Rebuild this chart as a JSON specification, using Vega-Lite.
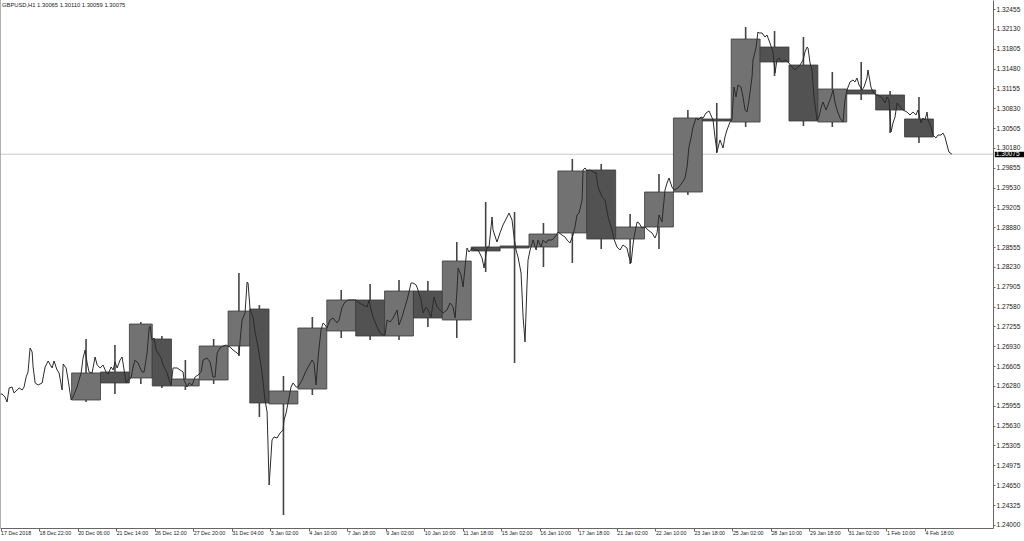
{
  "$schema": "https://vega.github.io/schema/vega-lite/v6.json",
  "width": 993,
  "height": 528,
  "autosize": {"type": "none"},
  "padding": {"left": 0, "top": 0, "right": 31, "bottom": 13},
  "background": "white",
  "config": {"view": {"stroke": null}, "font": "Liberation Sans", "axis": {"labelOverlap": false, "grid": false, "title": null}},
  "title": {"text": "GBPUSD,H1  1.30065 1.30110 1.30059 1.30075", "anchor": "start", "frame": "group", "orient": "top", "offset": -8, "dx": 2, "fontSize": 5.8, "fontWeight": "normal", "font": "Liberation Sans", "color": "#222222"},
  "datasets": {
    "days": [
      {"start": 59, "end": 83, "open": 1.26048, "close": 1.26491, "high": 1.27048, "low": 1.26015},
      {"start": 83, "end": 107, "open": 1.26507, "close": 1.26327, "high": 1.26949, "low": 1.26146},
      {"start": 107, "end": 126, "open": 1.26409, "close": 1.27293, "high": 1.27326, "low": 1.26310},
      {"start": 126, "end": 142, "open": 1.27048, "close": 1.26278, "high": 1.27097, "low": 1.26245},
      {"start": 142, "end": 165, "open": 1.26278, "close": 1.26392, "high": 1.26704, "low": 1.26212},
      {"start": 165, "end": 189, "open": 1.26376, "close": 1.26933, "high": 1.27048, "low": 1.26310},
      {"start": 189, "end": 207, "open": 1.26933, "close": 1.27506, "high": 1.28129, "low": 1.26769},
      {"start": 207, "end": 223, "open": 1.27539, "close": 1.25999, "high": 1.27605, "low": 1.25770},
      {"start": 223, "end": 247, "open": 1.25983, "close": 1.26196, "high": 1.26441, "low": 1.24164},
      {"start": 247, "end": 271, "open": 1.26228, "close": 1.27228, "high": 1.27408, "low": 1.26130},
      {"start": 271, "end": 295, "open": 1.27179, "close": 1.27687, "high": 1.27851, "low": 1.27064},
      {"start": 295, "end": 319, "open": 1.27687, "close": 1.27097, "high": 1.27949, "low": 1.27031},
      {"start": 319, "end": 343, "open": 1.27097, "close": 1.27834, "high": 1.28014, "low": 1.27031},
      {"start": 343, "end": 367, "open": 1.27834, "close": 1.27392, "high": 1.27998, "low": 1.27244},
      {"start": 367, "end": 391, "open": 1.27359, "close": 1.28326, "high": 1.28637, "low": 1.27064},
      {"start": 391, "end": 415, "open": 1.28555, "close": 1.28490, "high": 1.29293, "low": 1.28146},
      {"start": 415, "end": 439, "open": 1.28572, "close": 1.28539, "high": 1.29129, "low": 1.26654},
      {"start": 439, "end": 463, "open": 1.28555, "close": 1.28768, "high": 1.28948, "low": 1.28227},
      {"start": 463, "end": 487, "open": 1.28785, "close": 1.29801, "high": 1.29997, "low": 1.28293},
      {"start": 487, "end": 511, "open": 1.29817, "close": 1.28686, "high": 1.29915, "low": 1.28522},
      {"start": 511, "end": 535, "open": 1.28686, "close": 1.28883, "high": 1.29096, "low": 1.28277},
      {"start": 535, "end": 559, "open": 1.28883, "close": 1.29456, "high": 1.29751, "low": 1.28522},
      {"start": 559, "end": 583, "open": 1.29456, "close": 1.30669, "high": 1.30800, "low": 1.29407},
      {"start": 583, "end": 607, "open": 1.30653, "close": 1.30620, "high": 1.30915, "low": 1.30095},
      {"start": 607, "end": 631, "open": 1.30603, "close": 1.31963, "high": 1.32160, "low": 1.30522},
      {"start": 631, "end": 655, "open": 1.31832, "close": 1.31587, "high": 1.32095, "low": 1.31357},
      {"start": 655, "end": 679, "open": 1.31537, "close": 1.30620, "high": 1.31996, "low": 1.30538},
      {"start": 679, "end": 703, "open": 1.30603, "close": 1.31144, "high": 1.31423, "low": 1.30522},
      {"start": 703, "end": 727, "open": 1.31128, "close": 1.31062, "high": 1.31587, "low": 1.30964},
      {"start": 727, "end": 751, "open": 1.31046, "close": 1.30800, "high": 1.31111, "low": 1.30423},
      {"start": 751, "end": 775, "open": 1.30653, "close": 1.30358, "high": 1.31013, "low": 1.30259}
    ],
    "hourly": [
      {"bar": 0, "price": 1.26146}, {"bar": 1.2, "price": 1.26146}, {"bar": 3.7, "price": 1.26097}, {"bar": 5.4, "price": 1.26015}, {"bar": 7.1, "price": 1.26245}, {"bar": 9.5, "price": 1.26261}, {"bar": 11.2, "price": 1.26163}, {"bar": 13.7, "price": 1.26212}, {"bar": 15.4, "price": 1.26245}, {"bar": 17.9, "price": 1.26212}, {"bar": 19.5, "price": 1.26261}, {"bar": 21.2, "price": 1.26425}, {"bar": 22.8, "price": 1.26507}, {"bar": 24.5, "price": 1.26900}, {"bar": 26.2, "price": 1.26835}, {"bar": 27, "price": 1.26589}, {"bar": 28.7, "price": 1.26327}, {"bar": 31.2, "price": 1.26294}, {"bar": 34.5, "price": 1.26327}, {"bar": 37, "price": 1.26589}, {"bar": 39.5, "price": 1.26687}, {"bar": 42.8, "price": 1.26573}, {"bar": 44.4, "price": 1.26687}, {"bar": 46.9, "price": 1.26540}, {"bar": 48.6, "price": 1.26491}, {"bar": 51.1, "price": 1.26212}, {"bar": 52, "price": 1.26638}, {"bar": 54.4, "price": 1.26573}, {"bar": 56.1, "price": 1.26376}, {"bar": 58.6, "price": 1.26048},
      {"bar": 60.2, "price": 1.26097}, {"bar": 63.5, "price": 1.26261}, {"bar": 66.9, "price": 1.26491}, {"bar": 68.5, "price": 1.26736}, {"bar": 70.2, "price": 1.26867}, {"bar": 71.9, "price": 1.26654}, {"bar": 73.5, "price": 1.26507}, {"bar": 76, "price": 1.26491}, {"bar": 78.5, "price": 1.26753}, {"bar": 80.2, "price": 1.26622}, {"bar": 82.7, "price": 1.26573},
      {"bar": 85.1, "price": 1.26622}, {"bar": 87.6, "price": 1.26507}, {"bar": 89.3, "price": 1.26474}, {"bar": 91.8, "price": 1.26589}, {"bar": 93.5, "price": 1.26540}, {"bar": 95.1, "price": 1.26671}, {"bar": 96.8, "price": 1.26573}, {"bar": 99.3, "price": 1.26704}, {"bar": 100.9, "price": 1.26753}, {"bar": 102.6, "price": 1.26540}, {"bar": 104.3, "price": 1.26327}, {"bar": 105.9, "price": 1.26376},
      {"bar": 108.4, "price": 1.26409}, {"bar": 110.1, "price": 1.26589}, {"bar": 111.7, "price": 1.26704}, {"bar": 114.2, "price": 1.26654}, {"bar": 117.5, "price": 1.26507}, {"bar": 119.2, "price": 1.26507}, {"bar": 121.7, "price": 1.26818}, {"bar": 123.4, "price": 1.27228}, {"bar": 124.2, "price": 1.27261},
      {"bar": 125.8, "price": 1.27031}, {"bar": 127.5, "price": 1.27064}, {"bar": 129.2, "price": 1.26867}, {"bar": 130.8, "price": 1.26818}, {"bar": 133.3, "price": 1.26736}, {"bar": 135, "price": 1.26622}, {"bar": 138.3, "price": 1.26491}, {"bar": 140, "price": 1.26376}, {"bar": 141.6, "price": 1.26294},
      {"bar": 143.3, "price": 1.26573}, {"bar": 146.6, "price": 1.26573}, {"bar": 149.1, "price": 1.26540}, {"bar": 151.6, "price": 1.26507}, {"bar": 152.4, "price": 1.26376}, {"bar": 154.9, "price": 1.26261}, {"bar": 156.6, "price": 1.26327}, {"bar": 159.1, "price": 1.26294}, {"bar": 161.6, "price": 1.26425}, {"bar": 164.1, "price": 1.26458},
      {"bar": 166.6, "price": 1.26507}, {"bar": 168.2, "price": 1.26704}, {"bar": 171.5, "price": 1.26736}, {"bar": 174, "price": 1.26671}, {"bar": 176.5, "price": 1.26425}, {"bar": 178.2, "price": 1.26425}, {"bar": 179.9, "price": 1.26818}, {"bar": 182.3, "price": 1.26900}, {"bar": 184.8, "price": 1.26933}, {"bar": 187.3, "price": 1.26949}, {"bar": 190.6, "price": 1.26917}, {"bar": 193.1, "price": 1.26867}, {"bar": 196.5, "price": 1.26818},
      {"bar": 198.1, "price": 1.26785}, {"bar": 199, "price": 1.27031}, {"bar": 200.6, "price": 1.27359}, {"bar": 203.1, "price": 1.27474}, {"bar": 204.8, "price": 1.27982}, {"bar": 205.6, "price": 1.27965}, {"bar": 207.3, "price": 1.27523},
      {"bar": 209.8, "price": 1.27392}, {"bar": 211.4, "price": 1.27162}, {"bar": 213.9, "price": 1.26917}, {"bar": 217.2, "price": 1.26491}, {"bar": 219.7, "price": 1.26048}, {"bar": 221.4, "price": 1.25851}, {"bar": 223.1, "price": 1.24655},
      {"bar": 225.5, "price": 1.25393}, {"bar": 227.2, "price": 1.25442}, {"bar": 229.7, "price": 1.25425}, {"bar": 232.2, "price": 1.25507}, {"bar": 234.7, "price": 1.25557}, {"bar": 235.5, "price": 1.25720}, {"bar": 237.2, "price": 1.25835}, {"bar": 238.8, "price": 1.25999}, {"bar": 241.3, "price": 1.26261}, {"bar": 243, "price": 1.26327}, {"bar": 245.5, "price": 1.26261}, {"bar": 247.1, "price": 1.26261},
      {"bar": 250.5, "price": 1.26376}, {"bar": 253, "price": 1.26491}, {"bar": 255.5, "price": 1.26589}, {"bar": 258.8, "price": 1.26704}, {"bar": 260.4, "price": 1.26654}, {"bar": 262.1, "price": 1.26294}, {"bar": 263.8, "price": 1.26753}, {"bar": 266.2, "price": 1.27195}, {"bar": 267.9, "price": 1.27310}, {"bar": 269.6, "price": 1.27277},
      {"bar": 271.2, "price": 1.27228}, {"bar": 273.7, "price": 1.27359}, {"bar": 276.2, "price": 1.27392}, {"bar": 279.5, "price": 1.27310}, {"bar": 281.2, "price": 1.27359}, {"bar": 283.7, "price": 1.27572}, {"bar": 286.2, "price": 1.27654}, {"bar": 288.7, "price": 1.27687}, {"bar": 292.8, "price": 1.27687}, {"bar": 295.3, "price": 1.27687},
      {"bar": 297.8, "price": 1.27638}, {"bar": 301.1, "price": 1.27605}, {"bar": 304.5, "price": 1.27572}, {"bar": 306.1, "price": 1.27687}, {"bar": 307.8, "price": 1.27523}, {"bar": 309.4, "price": 1.27408}, {"bar": 312.8, "price": 1.27244}, {"bar": 315.3, "price": 1.27146}, {"bar": 317.8, "price": 1.27113}, {"bar": 319.4, "price": 1.27113},
      {"bar": 321.1, "price": 1.27359}, {"bar": 323.6, "price": 1.27326}, {"bar": 326.1, "price": 1.27392}, {"bar": 329.4, "price": 1.27523}, {"bar": 331, "price": 1.27277}, {"bar": 333.5, "price": 1.27408}, {"bar": 335.2, "price": 1.27523}, {"bar": 337.7, "price": 1.27687}, {"bar": 339.3, "price": 1.27818}, {"bar": 341, "price": 1.27965}, {"bar": 342.7, "price": 1.27965},
      {"bar": 345.2, "price": 1.27933}, {"bar": 346.8, "price": 1.27851}, {"bar": 349.3, "price": 1.27687}, {"bar": 351, "price": 1.27474}, {"bar": 353.5, "price": 1.27572}, {"bar": 355.1, "price": 1.27523}, {"bar": 357.6, "price": 1.27408}, {"bar": 360.1, "price": 1.27736}, {"bar": 362.6, "price": 1.27572}, {"bar": 365.1, "price": 1.27523}, {"bar": 367.6, "price": 1.27474},
      {"bar": 370.9, "price": 1.27523}, {"bar": 373.4, "price": 1.27638}, {"bar": 375.9, "price": 1.27572}, {"bar": 377.6, "price": 1.27392}, {"bar": 379.2, "price": 1.27851}, {"bar": 380.1, "price": 1.28211}, {"bar": 382.5, "price": 1.28096}, {"bar": 384.2, "price": 1.27900}, {"bar": 385.9, "price": 1.28227}, {"bar": 387.5, "price": 1.28539}, {"bar": 389.2, "price": 1.28473},
      {"bar": 391.7, "price": 1.28539}, {"bar": 394.2, "price": 1.28506}, {"bar": 396.7, "price": 1.28506}, {"bar": 400, "price": 1.28375}, {"bar": 401.7, "price": 1.28211}, {"bar": 404.1, "price": 1.28555}, {"bar": 405.8, "price": 1.28555}, {"bar": 408.3, "price": 1.29047}, {"bar": 409.1, "price": 1.28834}, {"bar": 412.4, "price": 1.28637}, {"bar": 414.9, "price": 1.28785},
      {"bar": 417.4, "price": 1.28916}, {"bar": 420.8, "price": 1.29047}, {"bar": 422.4, "price": 1.29112}, {"bar": 424.9, "price": 1.28998}, {"bar": 426.6, "price": 1.28719}, {"bar": 428.2, "price": 1.28506}, {"bar": 429.9, "price": 1.28391}, {"bar": 432.4, "price": 1.28129}, {"bar": 434.1, "price": 1.27408}, {"bar": 435.7, "price": 1.26999}, {"bar": 437.4, "price": 1.27965}, {"bar": 438.2, "price": 1.28342},
      {"bar": 439.9, "price": 1.28506}, {"bar": 442.4, "price": 1.28670}, {"bar": 444.9, "price": 1.28506}, {"bar": 446.5, "price": 1.28670}, {"bar": 449, "price": 1.28555}, {"bar": 450.7, "price": 1.28670}, {"bar": 453.2, "price": 1.28621}, {"bar": 454.8, "price": 1.28670}, {"bar": 458.1, "price": 1.28670}, {"bar": 460.6, "price": 1.28719}, {"bar": 463.1, "price": 1.28801},
      {"bar": 466.4, "price": 1.28752}, {"bar": 468.9, "price": 1.28719}, {"bar": 470.6, "price": 1.28670}, {"bar": 473.1, "price": 1.28621}, {"bar": 475.6, "price": 1.28752}, {"bar": 477.2, "price": 1.28883}, {"bar": 478.9, "price": 1.29080}, {"bar": 480.6, "price": 1.29112}, {"bar": 483.1, "price": 1.29325}, {"bar": 483.9, "price": 1.29817}, {"bar": 485.6, "price": 1.29850}, {"bar": 487.2, "price": 1.29801},
      {"bar": 489.7, "price": 1.29817}, {"bar": 492.2, "price": 1.29784}, {"bar": 494.7, "price": 1.29768}, {"bar": 496.3, "price": 1.29538}, {"bar": 499.7, "price": 1.29375}, {"bar": 502.2, "price": 1.29325}, {"bar": 504.7, "price": 1.29047}, {"bar": 508, "price": 1.28834}, {"bar": 509.6, "price": 1.28686},
      {"bar": 512.1, "price": 1.28555}, {"bar": 514.6, "price": 1.28506}, {"bar": 517.1, "price": 1.28588}, {"bar": 520.4, "price": 1.28539}, {"bar": 522.1, "price": 1.28391}, {"bar": 523.8, "price": 1.28293}, {"bar": 525.4, "price": 1.28588}, {"bar": 526.3, "price": 1.28719}, {"bar": 528.8, "price": 1.28965}, {"bar": 530.4, "price": 1.28948}, {"bar": 532.9, "price": 1.28867}, {"bar": 535.4, "price": 1.28883},
      {"bar": 537.9, "price": 1.28834}, {"bar": 541.2, "price": 1.28785}, {"bar": 543.7, "price": 1.28703}, {"bar": 545.4, "price": 1.28785}, {"bar": 547, "price": 1.29080}, {"bar": 549.5, "price": 1.28965}, {"bar": 552, "price": 1.29489}, {"bar": 553.7, "price": 1.29604}, {"bar": 555.3, "price": 1.29686}, {"bar": 557.8, "price": 1.29538}, {"bar": 559.5, "price": 1.29489},
      {"bar": 562.8, "price": 1.29522}, {"bar": 566.1, "price": 1.29604}, {"bar": 568.6, "price": 1.29686}, {"bar": 570.3, "price": 1.29866}, {"bar": 571.9, "price": 1.30194}, {"bar": 573.6, "price": 1.30341}, {"bar": 575.3, "price": 1.30522}, {"bar": 577.8, "price": 1.30669}, {"bar": 579.4, "price": 1.30636}, {"bar": 581.9, "price": 1.30685}, {"bar": 583.6, "price": 1.30669},
      {"bar": 586.1, "price": 1.30751}, {"bar": 588.6, "price": 1.30784}, {"bar": 591.9, "price": 1.30636}, {"bar": 593.5, "price": 1.30358}, {"bar": 595.2, "price": 1.30112}, {"bar": 597.7, "price": 1.30309}, {"bar": 600.2, "price": 1.30177}, {"bar": 601.8, "price": 1.30358}, {"bar": 603.5, "price": 1.30472}, {"bar": 606, "price": 1.30603}, {"bar": 607.6, "price": 1.30636},
      {"bar": 609.3, "price": 1.31177}, {"bar": 611, "price": 1.31013}, {"bar": 612.6, "price": 1.31210}, {"bar": 615.1, "price": 1.31177}, {"bar": 616.8, "price": 1.31013}, {"bar": 618.5, "price": 1.30800}, {"bar": 620.1, "price": 1.30767}, {"bar": 621.8, "price": 1.30964}, {"bar": 624.3, "price": 1.31341}, {"bar": 625.1, "price": 1.31619}, {"bar": 627.6, "price": 1.31816}, {"bar": 629.2, "price": 1.32078}, {"bar": 630.1, "price": 1.32062}, {"bar": 632.6, "price": 1.32062},
      {"bar": 635.1, "price": 1.31996}, {"bar": 636.7, "price": 1.32029}, {"bar": 639.2, "price": 1.31898}, {"bar": 641.7, "price": 1.31750}, {"bar": 643.4, "price": 1.31406}, {"bar": 645, "price": 1.31619}, {"bar": 646.7, "price": 1.31652}, {"bar": 649.2, "price": 1.31587}, {"bar": 651.7, "price": 1.31619}, {"bar": 654.2, "price": 1.31587},
      {"bar": 657.5, "price": 1.31505}, {"bar": 660, "price": 1.31456}, {"bar": 661.7, "price": 1.31488}, {"bar": 664.2, "price": 1.31537}, {"bar": 666.7, "price": 1.31619}, {"bar": 668.3, "price": 1.31750}, {"bar": 670, "price": 1.31832}, {"bar": 670.8, "price": 1.31816}, {"bar": 672.5, "price": 1.31570}, {"bar": 674.1, "price": 1.31456}, {"bar": 675.8, "price": 1.31013}, {"bar": 678.3, "price": 1.30636}, {"bar": 679.9, "price": 1.30685},
      {"bar": 681.6, "price": 1.30833}, {"bar": 683.3, "price": 1.30931}, {"bar": 685.8, "price": 1.30800}, {"bar": 687.4, "price": 1.30882}, {"bar": 689.9, "price": 1.31013}, {"bar": 691.6, "price": 1.31128}, {"bar": 693.2, "price": 1.30931}, {"bar": 694.9, "price": 1.30800}, {"bar": 697.4, "price": 1.30669}, {"bar": 699.9, "price": 1.30603}, {"bar": 701.5, "price": 1.30964}, {"bar": 703.2, "price": 1.31128},
      {"bar": 705.7, "price": 1.31259}, {"bar": 708.2, "price": 1.31292}, {"bar": 709.8, "price": 1.31259}, {"bar": 711.5, "price": 1.31324}, {"bar": 713.2, "price": 1.31210}, {"bar": 715.7, "price": 1.31128}, {"bar": 717.3, "price": 1.31177}, {"bar": 719.8, "price": 1.31324}, {"bar": 720.6, "price": 1.31456}, {"bar": 723.1, "price": 1.31177}, {"bar": 724.8, "price": 1.31095}, {"bar": 727.3, "price": 1.31046},
      {"bar": 728.9, "price": 1.31046}, {"bar": 732.3, "price": 1.30997}, {"bar": 734.8, "price": 1.30915}, {"bar": 736.4, "price": 1.31013}, {"bar": 738.1, "price": 1.30964}, {"bar": 739.8, "price": 1.30440}, {"bar": 741.4, "price": 1.30587}, {"bar": 743.1, "price": 1.30685}, {"bar": 744.8, "price": 1.30915}, {"bar": 747.2, "price": 1.30849}, {"bar": 749.7, "price": 1.30800},
      {"bar": 753.1, "price": 1.30767}, {"bar": 755.5, "price": 1.30718}, {"bar": 758, "price": 1.30767}, {"bar": 760.5, "price": 1.30718}, {"bar": 762.2, "price": 1.30800}, {"bar": 764.7, "price": 1.30587}, {"bar": 766.3, "price": 1.30669}, {"bar": 768, "price": 1.30636}, {"bar": 769.7, "price": 1.30767}, {"bar": 770.5, "price": 1.30636}, {"bar": 773, "price": 1.30522}, {"bar": 774.6, "price": 1.30390}, {"bar": 777.1, "price": 1.30341},
      {"bar": 778.8, "price": 1.30390}, {"bar": 781.3, "price": 1.30390}, {"bar": 782.9, "price": 1.30423}, {"bar": 784.6, "price": 1.30358}, {"bar": 786.3, "price": 1.30227}, {"bar": 787.9, "price": 1.30112}, {"bar": 790.4, "price": 1.30075}
    ]
  },
  "layer": [
    {
      "data": {"values": [{}]},
      "mark": {"type": "rule", "color": "#c9c9c9", "strokeWidth": 1},
      "encoding": {"y": {"datum": 1.30075, "type": "quantitative"}}
    },
    {
      "data": {"values": [{}]},
      "mark": {"type": "rule", "color": "#666666", "strokeWidth": 1},
      "encoding": {"x": {"datum": -0.5, "type": "quantitative"}}
    },
    {
      "data": {"name": "days"},
      "transform": [{"calculate": "(datum.start + datum.end) / 2", "as": "mid"}],
      "mark": {"type": "rule", "color": "#444444", "strokeWidth": 1.6},
      "encoding": {
        "x": {"field": "mid", "type": "quantitative"},
        "y": {"field": "low", "type": "quantitative"},
        "y2": {"field": "high"}
      }
    },
    {
      "data": {"name": "days"},
      "mark": {"type": "rect", "stroke": "#3a3a3a", "strokeWidth": 0.8},
      "encoding": {
        "x": {"field": "start", "type": "quantitative", "scale": {"domain": [-0.5, 824.5], "nice": false, "zero": false}, "axis": {"orient": "bottom", "tickCount": 60, "values": [0, 32, 64, 96, 128, 160, 192, 224, 256, 288, 320, 352, 384, 416, 448, 480, 512, 544, 576, 608, 640, 672, 704, 736, 768], "labelExpr": "['17 Dec 2018','18 Dec 22:00','20 Dec 06:00','21 Dec 14:00','26 Dec 12:00','27 Dec 20:00','31 Dec 04:00','3 Jan 02:00','4 Jan 10:00','7 Jan 18:00','9 Jan 02:00','10 Jan 10:00','11 Jan 18:00','15 Jan 02:00','16 Jan 10:00','17 Jan 18:00','21 Jan 02:00','22 Jan 10:00','23 Jan 18:00','25 Jan 02:00','28 Jan 10:00','29 Jan 18:00','31 Jan 02:00','1 Feb 10:00','4 Feb 18:00'][round(datum.value / 32)]", "title": null, "grid": false, "tickSize": 3, "tickColor": "#666666", "domainColor": "#666666", "labelAlign": "left", "labelBaseline": "top", "labelPadding": -1, "labelDx": 2, "labelFontSize": 5.3, "labelFont": "Liberation Sans", "labelColor": "#222222", "labelFlush": false, "labelOverlap": false}},
        "x2": {"field": "end"},
        "y": {"field": "open", "type": "quantitative", "scale": {"domain": [1.239507, 1.326025], "nice": false, "zero": false}, "axis": {"orient": "right", "tickCount": 60, "values": [1.32455, 1.3213, 1.31805, 1.3148, 1.31155, 1.3083, 1.30505, 1.3018, 1.29855, 1.2953, 1.29205, 1.2888, 1.28555, 1.2823, 1.27905, 1.2758, 1.27255, 1.2693, 1.26605, 1.2628, 1.25955, 1.2563, 1.25305, 1.24975, 1.2465, 1.24325, 1.24], "format": ".5f", "title": null, "grid": false, "tickSize": 2, "tickColor": "#666666", "domainColor": "#666666", "labelPadding": 1, "labelFontSize": 6.6, "labelFont": "Liberation Sans", "labelColor": "#222222", "labelFlush": false, "labelOverlap": false, "labelBound": false}},
        "y2": {"field": "close"},
        "fill": {"condition": {"test": "datum.close >= datum.open", "value": "#727272"}, "value": "#525252"}
      }
    },
    {
      "data": {"name": "hourly"},
      "mark": {"type": "line", "color": "#2b2b2b", "strokeWidth": 1},
      "encoding": {
        "x": {"field": "bar", "type": "quantitative"},
        "y": {"field": "price", "type": "quantitative"}
      }
    },
    {
      "data": {"values": [{}]},
      "mark": {"type": "rect", "color": "#000000"},
      "encoding": {
        "x": {"datum": 826, "type": "quantitative"},
        "x2": {"datum": 852},
        "y": {"datum": 1.30115, "type": "quantitative"},
        "y2": {"datum": 1.30025}
      }
    },
    {
      "data": {"values": [{}]},
      "mark": {"type": "text", "color": "#ffffff", "align": "left", "baseline": "middle", "fontSize": 6.6, "font": "Liberation Sans", "text": "1.30075"},
      "encoding": {
        "x": {"datum": 826.8, "type": "quantitative"},
        "y": {"datum": 1.30072, "type": "quantitative"}
      }
    }
  ]
}
